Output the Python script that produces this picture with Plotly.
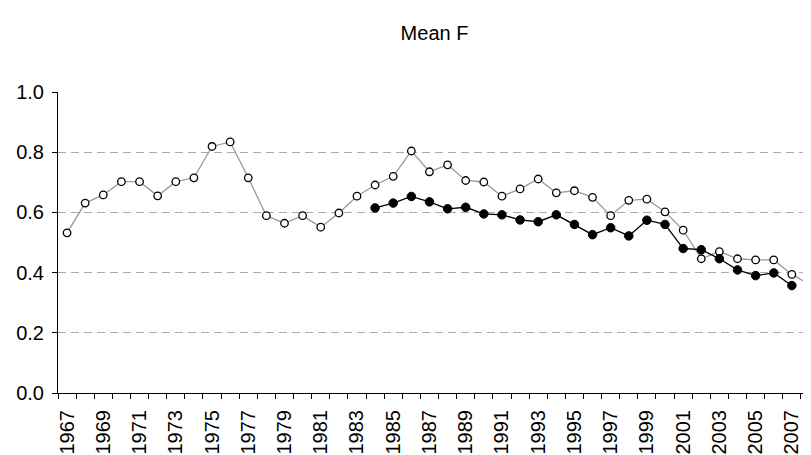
import plotly.graph_objects as go

years = list(range(1967, 2009))
open_vals = [0.532, 0.631, 0.658, 0.702, 0.702, 0.655, 0.702, 0.715, 0.819, 0.834,
             0.715, 0.589, 0.564, 0.589, 0.551, 0.598, 0.654, 0.691, 0.720, 0.804,
             0.735, 0.758, 0.706, 0.701, 0.654, 0.678, 0.711, 0.665, 0.672, 0.650,
             0.589, 0.640, 0.644, 0.602, 0.541, 0.446, 0.470, 0.446, 0.442, 0.442,
             0.394, 0.360]
filled_years = list(range(1984, 2008))
filled_vals = [0.615, 0.631, 0.653, 0.635, 0.612, 0.617, 0.595, 0.592, 0.575, 0.569,
               0.592, 0.560, 0.526, 0.549, 0.522, 0.574, 0.560, 0.480, 0.476, 0.446,
               0.409, 0.390, 0.399, 0.357]
label_years = list(range(1967, 2008, 2))
y_ticks = [0.0, 0.2, 0.4, 0.6, 0.8, 1.0]

FONT = "Liberation Sans, Arial, sans-serif"
FS = 20

fig = go.Figure()
fig.add_trace(go.Scatter(
    x=years, y=open_vals, mode="lines+markers", cliponaxis=False,
    line=dict(color="#999999", width=1.3),
    marker=dict(symbol="circle", size=7.5, color="white",
                line=dict(color="black", width=1.3)),
    showlegend=False))
fig.add_trace(go.Scatter(
    x=filled_years, y=filled_vals, mode="lines+markers", cliponaxis=False,
    line=dict(color="black", width=1.3),
    marker=dict(symbol="circle", size=8.5, color="black",
                line=dict(color="black", width=1)),
    showlegend=False))

fig.update_layout(
    width=803, height=447,
    margin=dict(l=50, r=0, t=84, b=60),
    paper_bgcolor="white", plot_bgcolor="white",
    font=dict(family=FONT, size=FS, color="black"),
    title=dict(text="Mean F", x=0.5, xref="paper", xanchor="center",
               y=1 - 25 / 447, yref="container", yanchor="middle",
               font=dict(family=FONT, size=FS, color="black")),
)
fig.update_xaxes(
    range=[1966.5, 1966.5 + 753 / 18.12],
    tickmode="array", tickvals=label_years, ticktext=[str(y) for y in label_years],
    tickangle=-90, ticks="", showgrid=False, zeroline=False,
    showline=True, linecolor="black", linewidth=1,
    ticklabelstandoff=8,
    tickfont=dict(family=FONT, size=FS, color="black"),
    minor=dict(tickmode="array", tickvals=[y - 0.5 for y in years] + [2008.5],
               ticks="outside", ticklen=5, tickcolor="black", tickwidth=1,
               showgrid=False),
)
fig.update_yaxes(
    range=[0, 1], tickmode="array", tickvals=y_ticks,
    ticktext=[f"{v:.1f}" for v in y_ticks],
    ticks="outside", ticklen=5, tickcolor="black", tickwidth=1,
    ticklabelstandoff=4,
    showline=True, linecolor="black", linewidth=1, zeroline=False,
    showgrid=True, gridcolor="#aaaaaa", griddash="8px,5px", gridwidth=1,
    tickfont=dict(family=FONT, size=FS, color="black"),
)
fig.write_html("out.html")
